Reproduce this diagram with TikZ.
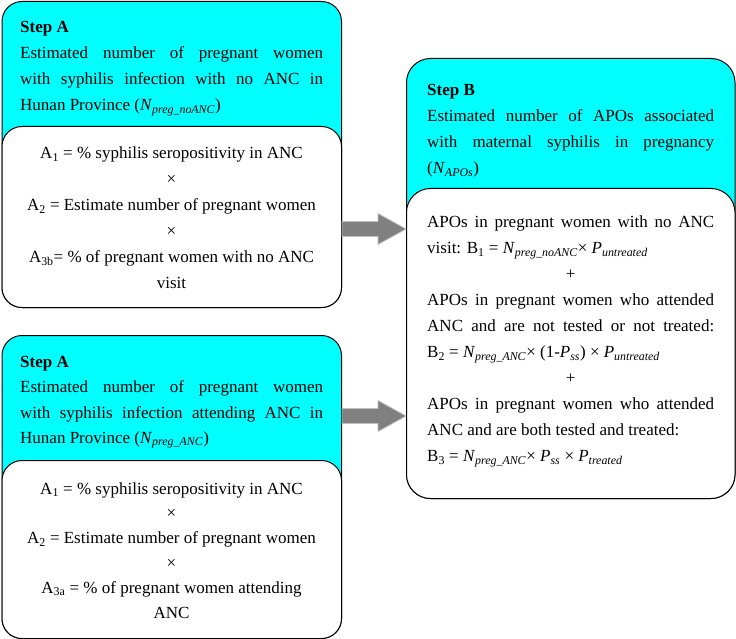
\documentclass[tikz,border=0pt]{standalone}
\usepackage{fontspec}
\setmainfont{Liberation Serif}
\usetikzlibrary{positioning,calc}

\definecolor{headcyan}{RGB}{0,255,255}
\newcommand{\Nvar}[1]{\textit{N}\textsubscript{\textit{#1}}}
\newcommand{\Pvar}[1]{\textit{P}\textsubscript{\textit{#1}}}

\tikzset{
  headbox/.style={draw=black, fill=headcyan, line width=1pt, rounded corners=20pt, anchor=north west, inner sep=0pt},
  bodybox/.style={draw=black, fill=white, line width=1pt, rounded corners=20pt, anchor=north west, inner sep=0pt},
  headtext/.style={anchor=north west, inner sep=0pt, align=justify},
  bodytext/.style={anchor=north, inner sep=0pt, align=center},
  fatarrow/.style={draw=black!25, fill=black!50, line width=0.8pt,
    to path={($(\tikztostart)+(0,-7.5)$) -- ($(\tikztotarget)+(-28,-7.5)$) -- ($(\tikztotarget)+(-28,-15.5)$) -- (\tikztotarget) -- ($(\tikztotarget)+(-28,15.5)$) -- ($(\tikztotarget)+(-28,7.5)$) -- ($(\tikztostart)+(0,7.5)$) -- cycle}}
}

\begin{document}
\begin{tikzpicture}[x=1pt, y=-1pt, font=\fontsize{17}{26}\selectfont]
\def \aleft {1.5}
\def \awidth {339.5}
\def \atext {20}
\def \bleft {406}
\def \bwidth {328.5}
\def \btext {427}
\useasboundingbox (0,0) rectangle (736,639);

%Step A, no ANC
\node[headbox, minimum width=\awidth pt, minimum height=306pt] (noancHead) at (\aleft,1) {};
\node[bodybox, minimum width=\awidth pt, minimum height=181pt] (noancBody) at (\aleft,126) {};
\node[headtext, text width=303pt] (noancTitle) at (\atext,21) {\textbf{Step A}\\
Estimated number of pregnant women\linebreak with syphilis infection with no ANC in\linebreak Hunan Province (\Nvar{preg\_noANC})};
\node[bodytext] (noancCalc) at (171.5,147) {A\textsubscript{1} = \% syphilis seropositivity in ANC\\ ×\\
A\textsubscript{2} = Estimate number of pregnant women\\ ×\\
A\textsubscript{3b}= \% of pregnant women with no ANC\\ visit};

%Step A, attending ANC
\node[headbox, minimum width=\awidth pt, minimum height=303pt] (ancHead) at (\aleft,335) {};
\node[bodybox, minimum width=\awidth pt, minimum height=178pt] (ancBody) at (\aleft,460) {};
\node[headtext, text width=303pt, font=\fontsize{17}{25.3}\selectfont] (ancTitle) at (\atext,356) {\textbf{Step A}\\
Estimated number of pregnant women\linebreak with syphilis infection attending ANC in\linebreak Hunan Province (\Nvar{preg\_ANC})};
\node[bodytext, font=\fontsize{17}{24.8}\selectfont] (ancCalc) at (171.5,482) {A\textsubscript{1} = \% syphilis seropositivity in ANC\\ ×\\
A\textsubscript{2} = Estimate number of pregnant women\\ ×\\
A\textsubscript{3a} = \% of pregnant women attending\\ ANC};

%Step B
\node[headbox, minimum width=\bwidth pt, minimum height=440pt, rounded corners=24pt] (stepbHead) at (\bleft,58) {};
\node[bodybox, minimum width=\bwidth pt, minimum height=310pt, rounded corners=24pt] (stepbBody) at (\bleft,188) {};
\node[headtext, text width=287pt] (stepbTitle) at (\btext,84) {\textbf{Step B}\\
Estimated number of APOs associated\linebreak with maternal syphilis in pregnancy\linebreak (\Nvar{APOs})};
\node[headtext, text width=287pt] (stepbCalc) at (\btext,216) {APOs in pregnant women with no ANC\linebreak
visit: B\textsubscript{1} = \Nvar{preg\_noANC}× \Pvar{untreated}\\
\hspace*{\fill}+\hspace*{\fill}\\
APOs in pregnant women who attended\linebreak ANC and are not tested or not treated:\linebreak
B\textsubscript{2} = \Nvar{preg\_ANC}× (1-\Pvar{ss}) × \Pvar{untreated}\\
\hspace*{\fill}+\hspace*{\fill}\\
APOs in pregnant women who attended\linebreak ANC and are both tested and treated:\\
B\textsubscript{3} = \Nvar{preg\_ANC}× \Pvar{ss} × \Pvar{treated}};

%Arrows into step B
\coordinate (tipOne) at (0,229);
\coordinate (tipTwo) at (0,416);
\path[fatarrow] (noancBody.east |- tipOne) to (stepbBody.west |- tipOne);
\path[fatarrow] (ancHead.east |- tipTwo) to (stepbBody.west |- tipTwo);

\end{tikzpicture}
\end{document}
